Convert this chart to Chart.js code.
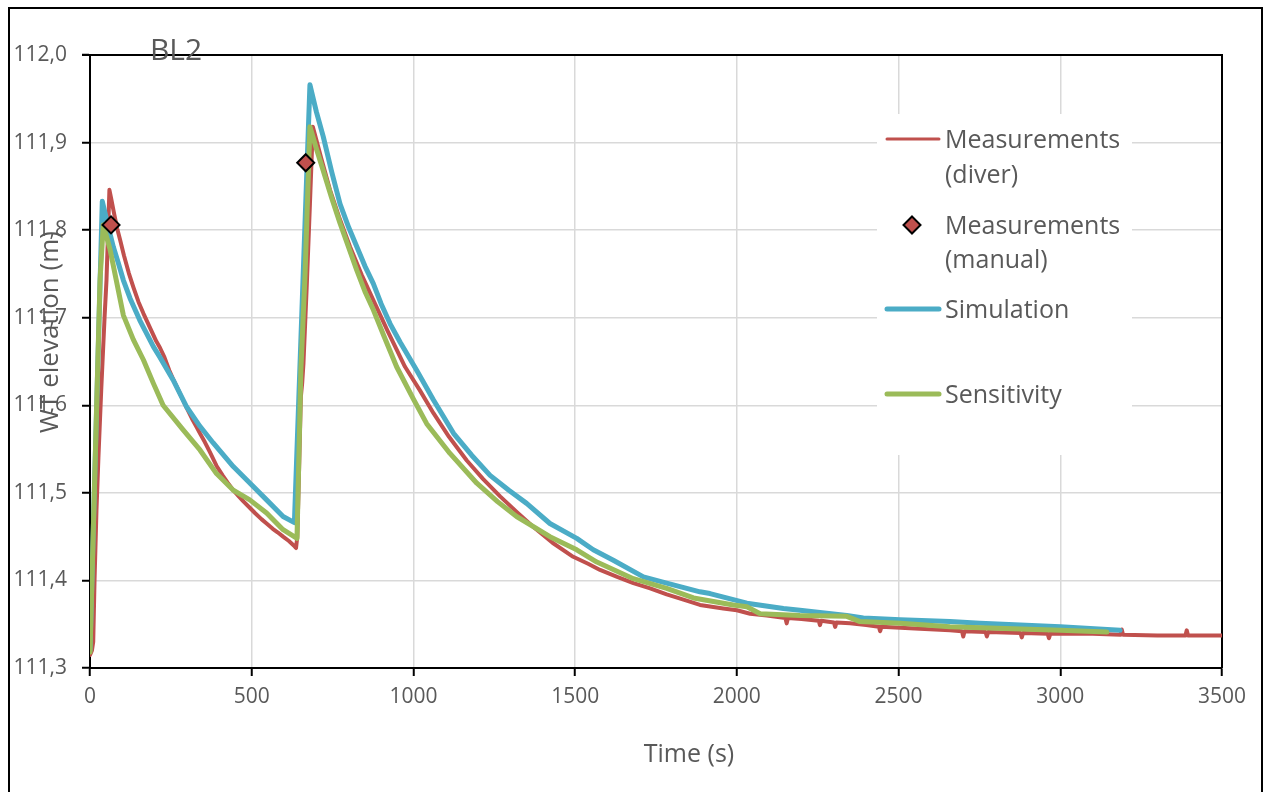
<!DOCTYPE html>
<html>
<head>
<meta charset="utf-8">
<title>BL2</title>
<script src="https://cdn.jsdelivr.net/npm/chart.js@4.4.1/dist/chart.umd.min.js"></script>
<style>
  html, body { margin: 0; padding: 0; background: #fff; overflow: hidden; }
  #wrap { position: relative; width: 1266px; height: 792px; }
</style>
</head>
<body>
<div id="wrap"><canvas id="c" width="1266" height="792"></canvas></div>
<script>
// Water table elevation at BL2 (m) against time (s)

// Diver logger record
const diverTime = [
  0, 6, 10, 14, 20, 26, 35, 45, 51, 56, 60, 66, 75, 84, 93, 105, 120, 134, 150, 165,
  175, 190, 205, 216, 230, 245, 257, 270, 285, 299, 315, 330, 340, 355, 370, 391, 410, 425, 443, 460,
  475, 494, 510, 530, 546, 565, 580, 597, 615, 630, 637, 641, 646, 652, 656, 660, 670, 680, 689, 700,
  715, 742, 770, 804, 840, 876, 920, 974, 1020, 1062, 1110, 1165, 1215, 1268, 1320, 1371, 1430, 1494, 1540, 1577,
  1630, 1680, 1732, 1783, 1835, 1886, 1958, 2000, 2041, 2093, 2150, 2154, 2158, 2200, 2253, 2257, 2261, 2300, 2304, 2308,
  2350, 2400, 2439, 2443, 2447, 2550, 2659, 2696, 2700, 2704, 2769, 2773, 2777, 2877, 2881, 2885, 2961, 2965, 2969, 3100,
  3186, 3190, 3194, 3300, 3387, 3391, 3395, 3500
];
const diverLevel = [
  111.315, 111.320, 111.330, 111.400, 111.480, 111.540, 111.620, 111.700, 111.743, 111.800, 111.846, 111.835, 111.818, 111.802, 111.789, 111.771, 111.751, 111.735, 111.718, 111.705,
  111.697, 111.685, 111.673, 111.666, 111.655, 111.640, 111.630, 111.620, 111.608, 111.597, 111.585, 111.575, 111.568, 111.558, 111.547, 111.531, 111.520, 111.512, 111.503, 111.496,
  111.490, 111.483, 111.477, 111.470, 111.465, 111.459, 111.455, 111.450, 111.445, 111.440, 111.437, 111.450, 111.520, 111.610, 111.625, 111.648, 111.735, 111.830, 111.918, 111.903,
  111.882, 111.846, 111.815, 111.781, 111.749, 111.720, 111.685, 111.644, 111.617, 111.591, 111.564, 111.537, 111.516, 111.496, 111.478, 111.461, 111.443, 111.427, 111.419, 111.412,
  111.404, 111.397, 111.391, 111.384, 111.378, 111.372, 111.368, 111.366, 111.362, 111.360, 111.357, 111.351, 111.357, 111.356, 111.354, 111.349, 111.354, 111.352, 111.347, 111.352,
  111.351, 111.349, 111.347, 111.342, 111.347, 111.345, 111.343, 111.342, 111.336, 111.342, 111.341, 111.336, 111.341, 111.340, 111.335, 111.340, 111.339, 111.334, 111.339, 111.339,
  111.338, 111.344, 111.338, 111.337, 111.337, 111.343, 111.337, 111.337
];

// Manual dip readings
const manualTime = [65, 667];
const manualLevel = [111.806, 111.877];

// Model run
const simTime = [
  0, 38, 55, 72, 88, 103, 124, 154, 196, 216, 257, 299, 340, 381, 443, 484, 546, 597, 632, 680,
  700, 721, 747, 773, 800, 825, 850, 876, 900, 928, 959, 1010, 1062, 1124, 1180, 1237, 1295, 1350, 1422, 1505,
  1556, 1618, 1711, 1783, 1886, 1917, 2031, 2144, 2195, 2340, 2391, 2505, 2659, 2752, 3000, 3185
];
const simLevel = [
  111.320, 111.833, 111.806, 111.781, 111.762, 111.743, 111.722, 111.697, 111.667, 111.655, 111.629, 111.598, 111.576, 111.557, 111.530, 111.515, 111.492, 111.473, 111.466, 111.966,
  111.935, 111.907, 111.867, 111.830, 111.803, 111.781, 111.759, 111.739, 111.716, 111.693, 111.672, 111.640, 111.606, 111.568, 111.543, 111.520, 111.503, 111.488, 111.465, 111.448,
  111.435, 111.423, 111.404, 111.397, 111.387, 111.385, 111.374, 111.368, 111.366, 111.360, 111.357, 111.355, 111.353, 111.351, 111.347, 111.343
];

// Sensitivity run
const sensTime = [
  0, 31, 41, 62, 80, 103, 134, 165, 196, 226, 288, 340, 391, 443, 494, 546, 597, 640, 652, 665,
  680, 700, 721, 747, 773, 800, 825, 850, 876, 910, 948, 1000, 1041, 1113, 1196, 1260, 1319, 1422, 1505, 1567,
  1680, 1783, 1866, 1989, 2031, 2072, 2195, 2340, 2381, 2505, 2659, 3000, 3144
];
const sensLevel = [
  111.318, 111.743, 111.806, 111.778, 111.745, 111.703, 111.675, 111.652, 111.625, 111.600, 111.572, 111.549, 111.522, 111.503, 111.492, 111.477, 111.458, 111.448, 111.640, 111.750,
  111.918, 111.893, 111.868, 111.837, 111.808, 111.780, 111.754, 111.730, 111.709, 111.678, 111.644, 111.607, 111.579, 111.545, 111.511, 111.490, 111.473, 111.450, 111.435, 111.421,
  111.402, 111.391, 111.380, 111.372, 111.370, 111.362, 111.360, 111.359, 111.353, 111.351, 111.347, 111.343, 111.341
];

const xTicks = { min: 0, max: 3500, step: 500 };
const yTicks = { min: 111.3, max: 112.0, step: 0.1 };

const RED = '#C0504D', BLUE = '#4BACC6', GREEN = '#9BBB59';
const GREY = '#595959', GRID = '#D9D9D9';
const FONT = "'Open Sans', 'Noto Sans', sans-serif";

const pairs = (xs, ys) => xs.map((x, i) => ({ x: x, y: ys[i] }));

// Frame, headings and legend panel
const decorations = {
  id: 'decorations',
  beforeDraw(chart) {
    const c = chart.ctx;
    c.save();
    c.fillStyle = '#fff';
    c.fillRect(0, 0, chart.width, chart.height);
    c.strokeStyle = '#000';
    c.lineWidth = 2;
    c.strokeRect(9, 8, 1253, 800);
    c.restore();
  },
  beforeDatasetsDraw(chart) {
    const c = chart.ctx;
    const a = chart.chartArea;
    c.save();
    // top and right edges of the plot frame
    c.strokeStyle = '#000';
    c.lineWidth = 2;
    c.beginPath();
    c.moveTo(a.left - 8, a.top);
    c.lineTo(a.right, a.top);
    c.lineTo(a.right, a.bottom);
    c.stroke();

    // legend panel
    c.fillStyle = '#fff';
    c.fillRect(877, 114, 255, 341);
    c.lineCap = 'round';
    const lx0 = 887, lx1 = 939;
    c.strokeStyle = RED; c.lineWidth = 3;
    c.beginPath(); c.moveTo(lx0, 139); c.lineTo(lx1, 139); c.stroke();
    c.strokeStyle = BLUE; c.lineWidth = 5;
    c.beginPath(); c.moveTo(lx0, 309); c.lineTo(lx1, 309); c.stroke();
    c.strokeStyle = GREEN; c.lineWidth = 5;
    c.beginPath(); c.moveTo(lx0, 394); c.lineTo(lx1, 394); c.stroke();
    // diamond marker
    c.beginPath();
    c.moveTo(912, 225 - 8.5); c.lineTo(912 + 8.5, 225); c.lineTo(912, 225 + 8.5); c.lineTo(912 - 8.5, 225); c.closePath();
    c.fillStyle = RED; c.fill();
    c.strokeStyle = '#000'; c.lineWidth = 2; c.lineJoin = 'miter'; c.stroke();

    c.fillStyle = GREY;
    c.font = '25px ' + FONT;
    c.textAlign = 'left';
    c.textBaseline = 'alphabetic';
    c.fillText('Measurements', 945, 148);
    c.fillText('(diver)', 945, 183);
    c.fillText('Measurements', 945, 234);
    c.fillText('(manual)', 945, 268);
    c.fillText('Simulation', 945, 318);
    c.fillText('Sensitivity', 945, 403);
    c.restore();
  },
  afterDraw(chart) {
    const c = chart.ctx;
    c.save();
    c.fillStyle = GREY;
    c.textBaseline = 'alphabetic';
    c.textAlign = 'center';
    c.font = '30px ' + FONT;
    c.fillText('BL2', 176, 60);
    c.font = '25px ' + FONT;
    c.fillText('Time (s)', 689, 762);
    c.translate(58, 332);
    c.rotate(-Math.PI / 2);
    c.font = '26px ' + FONT;
    c.fillText('WT elevation (m)', 0, 0);
    c.restore();
  }
};

const tickFont = { family: FONT, size: 21 };

new Chart(document.getElementById('c'), {
  type: 'line',
  data: {
    datasets: [
      {
        label: 'Measurements (manual)',
        data: pairs(manualTime, manualLevel),
        showLine: false,
        pointStyle: 'rectRot',
        pointRadius: 8.5,
        pointBackgroundColor: RED,
        pointBorderColor: '#000',
        pointBorderWidth: 2,
        order: 0
      },
      {
        label: 'Sensitivity',
        data: pairs(sensTime, sensLevel),
        borderColor: GREEN,
        borderWidth: 5,
        pointRadius: 0,
        order: 1
      },
      {
        label: 'Simulation',
        data: pairs(simTime, simLevel),
        borderColor: BLUE,
        borderWidth: 5,
        pointRadius: 0,
        order: 2
      },
      {
        label: 'Measurements (diver)',
        data: pairs(diverTime, diverLevel),
        borderColor: RED,
        borderWidth: 4,
        pointRadius: 0,
        order: 3
      }
    ]
  },
  options: {
    responsive: false,
    animation: false,
    events: [],
    layout: { padding: { top: 55, right: 44, left: 0, bottom: 0 } },
    elements: {
      line: { tension: 0, borderCapStyle: 'round', borderJoinStyle: 'round', fill: false }
    },
    plugins: {
      legend: { display: false },
      tooltip: { enabled: false },
      title: { display: false }
    },
    scales: {
      x: {
        type: 'linear',
        min: xTicks.min,
        max: xTicks.max,
        ticks: {
          stepSize: xTicks.step,
          color: GREY,
          font: tickFont,
          padding: 8,
          maxRotation: 0,
          callback: v => String(Math.round(v))
        },
        grid: { color: GRID, lineWidth: 1.5, tickColor: '#000', tickLength: 8, tickWidth: 2 },
        border: { color: '#000', width: 2 },
        afterFit(s) { s.height = 124; }
      },
      y: {
        type: 'linear',
        min: yTicks.min,
        max: yTicks.max,
        ticks: {
          stepSize: yTicks.step,
          color: GREY,
          font: tickFont,
          padding: 15,
          callback: v => Number(v).toFixed(1).replace('.', ',')
        },
        grid: { color: GRID, lineWidth: 1.5, tickColor: '#000', tickLength: 8, tickWidth: 2 },
        border: { color: '#000', width: 2 },
        afterFit(s) { s.width = 90; }
      }
    }
  },
  plugins: [decorations]
});
</script>
</body>
</html>
